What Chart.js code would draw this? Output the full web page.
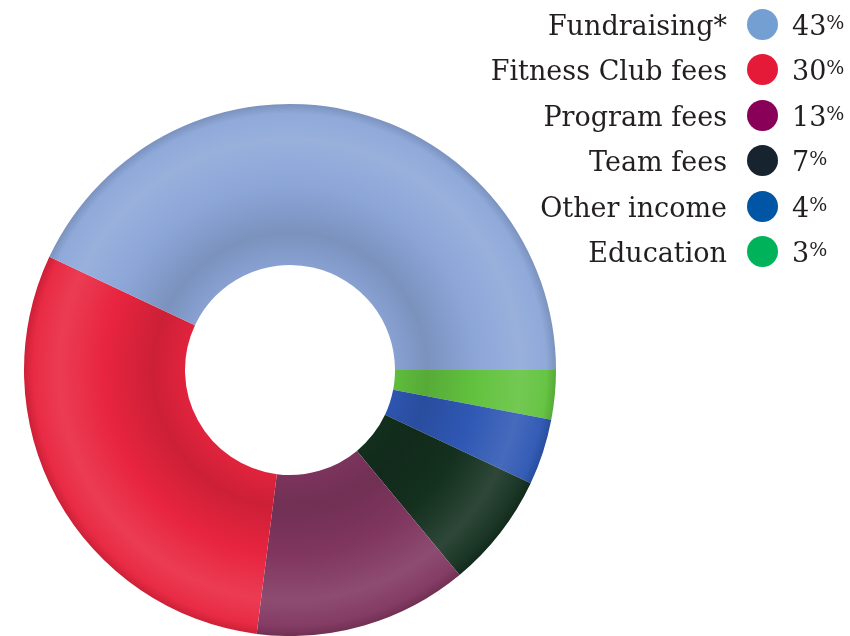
<!DOCTYPE html>
<html>
<head>
<meta charset="utf-8">
<script src="https://cdn.jsdelivr.net/npm/chart.js@4.4.1/dist/chart.umd.min.js"></script>
<style>
  html, body { margin: 0; padding: 0; background: #ffffff; }
  #wrap { position: relative; width: 850px; height: 636px; overflow: hidden; }
  #chartBox { position: absolute; left: 0; top: 0; width: 850px; height: 636px; }
  #legend { position: absolute; left: 0; top: 0; width: 850px; height: 300px; font-family: "DejaVu Serif", "Liberation Serif", serif; color: #231f20; }
  .row { position: absolute; left: 0; width: 850px; height: 40px; }
  .lab { position: absolute; right: 123px; top: 1px; height: 40px; line-height: 40px; font-size: 27px; white-space: nowrap; text-align: right; }
  .dot { position: absolute; left: 747px; top: 4px; width: 31px; height: 31px; border-radius: 50%; }
  .val { position: absolute; left: 792px; top: 1px; height: 40px; line-height: 40px; font-size: 27px; white-space: nowrap; }
  .val .pct { display: inline-block; font-size: 19px; line-height: 19px; vertical-align: top; position: relative; top: 7px; margin-left: 0px; letter-spacing: -1px; }
</style>
</head>
<body>
<div id="wrap">
  <div id="chartBox"><canvas id="c"></canvas></div>
  <div id="legend"></div>
</div>
<script>
// ---- data ----
const categories = ["Fundraising*", "Fitness Club fees", "Program fees", "Team fees", "Other income", "Education"];
const shares = [43, 30, 13, 7, 4, 3];
const valueLabels = ["43", "30", "13", "7", "4", "3"];

// ---- styles ----
const legendColors = ["#749fd3", "#e51a38", "#880057", "#17242f", "#0055a4", "#00b259"];
const ringColors = ["#8ca6d8", "#e8243f", "#80365f", "#14301f", "#2f58b4", "#62c23e"];

// legend (HTML text)
const legend = document.getElementById('legend');
categories.forEach((name, i) => {
  const cy = 25 + 45.4 * i;
  const row = document.createElement('div');
  row.className = 'row';
  row.style.top = (cy - 20) + 'px';
  const lab = document.createElement('div');
  lab.className = 'lab';
  lab.textContent = name;
  const dot = document.createElement('div');
  dot.className = 'dot';
  dot.style.background = legendColors[i];
  const val = document.createElement('div');
  val.className = 'val';
  val.textContent = valueLabels[i];
  const pct = document.createElement('span');
  pct.className = 'pct';
  pct.textContent = '%';
  val.appendChild(pct);
  row.appendChild(lab); row.appendChild(dot); row.appendChild(val);
  legend.appendChild(row);
});

function hexToRgb(h) {
  const n = parseInt(h.slice(1), 16);
  return [(n >> 16) & 255, (n >> 8) & 255, n & 255];
}
function shade(h, f) {
  const [r, g, b] = hexToRgb(h);
  let out;
  if (f >= 1) {
    const t = f - 1;
    out = [r + (255 - r) * t, g + (255 - g) * t, b + (255 - b) * t];
  } else {
    out = [r * f, g * f, b * f];
  }
  return 'rgb(' + out.map(v => Math.round(Math.max(0, Math.min(255, v)))).join(',') + ')';
}

const INNER = 105;
// Chart.js draws clockwise from 3 o'clock; the reference runs counter-clockwise in legend order
const chartLabels = categories.slice().reverse();
const chartData = shares.slice().reverse();
const chartColors = ringColors.slice().reverse();

function ringFill(ctx) {
  const chart = ctx.chart;
  const base = chartColors[ctx.dataIndex];
  const ca = chart.chartArea;
  if (!ca) return base;
  const cx = (ca.left + ca.right) / 2, cy = (ca.top + ca.bottom) / 2;
  const outer = Math.min(ca.right - ca.left, ca.bottom - ca.top) / 2;
  const g = chart.ctx.createRadialGradient(cx, cy, INNER, cx, cy, outer);
  g.addColorStop(0.0, shade(base, 0.97));
  g.addColorStop(0.2, shade(base, 0.88));
  g.addColorStop(0.5, shade(base, 1.0));
  g.addColorStop(0.78, shade(base, 1.11));
  g.addColorStop(0.94, shade(base, 1.03));
  g.addColorStop(1.0, shade(base, 0.88));
  return g;
}

new Chart(document.getElementById('c'), {
  type: 'doughnut',
  data: {
    labels: chartLabels,
    datasets: [{
      data: chartData,
      backgroundColor: ringFill,
      borderWidth: 0,
      hoverOffset: 0
    }]
  },
  options: {
    responsive: true,
    maintainAspectRatio: false,
    animation: false,
    rotation: 90,
    cutout: INNER,
    layout: { padding: { left: 24, top: 104, right: 294, bottom: 0 } },
    plugins: { legend: { display: false }, tooltip: { enabled: false } }
  }
});
</script>
</body>
</html>
